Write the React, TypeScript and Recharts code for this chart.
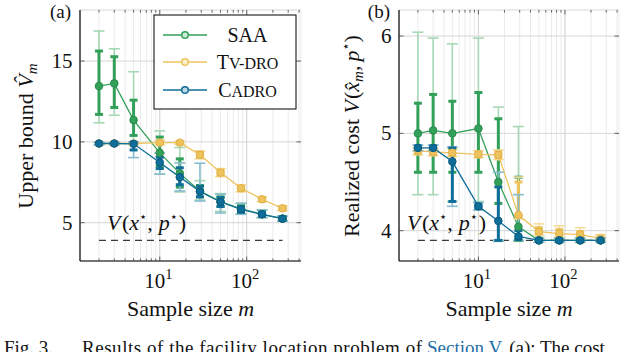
import React from 'react';
import { ComposedChart, Line, XAxis, YAxis, CartesianGrid, ErrorBar, ReferenceLine } from 'recharts';

// ---------- data ----------
const sampleSizes = [2, 3, 5, 10, 17, 29, 50, 86, 150, 258];
const optimalCost = 3.9;
const xGridTicks = [2, 3, 4, 5, 6, 7, 8, 9, 10, 20, 30, 40, 50, 60, 70, 80, 90, 100, 200, 300, 400];
const xMajorTicks = [10, 100];
const yTicksA = [5, 10, 15];
const yTicksB = [4, 5, 6];

// Panel (a): upper bound
const saaA = {
  mean: [13.45, 13.62, 11.35, 9.32, 8.05, 6.95, 6.3, 5.85, 5.52, 5.25],
  innerLo: [11.7, 12.13, 10.4, 8.5, 7.2, 6.6, 6.0, 5.65, 5.4, 5.15],
  innerHi: [15.62, 15.27, 12.58, 10.3, 8.95, 7.3, 6.6, 6.05, 5.7, 5.35],
  outerLo: [11.18, 11.65, 9.9, 8.0, 6.9, 6.4, 5.7, 5.55, 5.3, 5.1],
  outerHi: [16.86, 15.76, 14.34, 10.68, 9.65, 7.6, 6.8, 6.2, 5.8, 5.4],
};
const tvA = {
  mean: [9.9, 9.9, 9.9, 9.96, 9.95, 9.2, 8.1, 7.13, 6.45, 5.89],
  innerLo: [9.85, 9.85, 9.85, 9.9, 9.9, 9.05, 7.95, 7.0, 6.35, 5.8],
  innerHi: [9.95, 9.95, 9.95, 10.02, 10.0, 9.35, 8.25, 7.25, 6.55, 5.98],
  outerLo: [9.8, 9.8, 9.8, 9.8, 9.85, 8.95, 7.85, 6.9, 6.3, 5.75],
  outerHi: [10.0, 10.0, 10.0, 10.1, 10.05, 9.45, 8.35, 7.35, 6.6, 6.05],
};
const cadroA = {
  mean: [9.9, 9.9, 9.88, 8.72, 7.82, 6.93, 6.28, 5.83, 5.52, 5.25],
  innerLo: [9.85, 9.85, 9.5, 8.35, 7.35, 6.6, 6.0, 5.65, 5.4, 5.15],
  innerHi: [9.95, 9.95, 9.97, 9.05, 8.4, 7.25, 6.55, 6.0, 5.65, 5.35],
  outerLo: [9.82, 9.82, 9.03, 8.0, 6.96, 6.34, 5.6, 5.52, 5.32, 5.12],
  outerHi: [9.98, 9.98, 10.0, 9.3, 8.7, 8.68, 6.76, 6.2, 5.78, 5.4],
};

// Panel (b): realized cost
const saaB = {
  mean: [5.0, 5.03, 5.0, 5.05, 4.5, 4.04, 3.9, 3.9, 3.9, 3.9],
  innerLo: [4.6, 4.6, 4.6, 4.6, 4.28, 3.9, 3.89, 3.89, 3.89, 3.89],
  innerHi: [5.31, 5.4, 5.33, 5.42, 5.15, 4.55, 3.92, 3.92, 3.92, 3.92],
  outerLo: [4.37, 4.37, 4.3, 4.3, 3.9, 3.89, 3.88, 3.88, 3.88, 3.88],
  outerHi: [6.04, 5.98, 5.92, 5.98, 5.27, 5.07, 3.93, 3.93, 3.93, 3.93],
};
const tvB = {
  mean: [4.82, 4.81, 4.8, 4.785, 4.78, 4.16, 3.99, 3.97, 3.96, 3.92],
  innerLo: [4.79, 4.78, 4.77, 4.76, 4.75, 4.15, 3.97, 3.95, 3.94, 3.91],
  innerHi: [4.84, 4.83, 4.83, 4.81, 4.81, 4.5, 4.03, 4.01, 3.99, 3.94],
  outerLo: [4.78, 4.77, 4.76, 4.75, 4.73, 4.12, 3.95, 3.93, 3.92, 3.9],
  outerHi: [4.85, 4.84, 4.84, 4.82, 4.83, 4.55, 4.07, 4.05, 4.03, 3.96],
};
const cadroB = {
  mean: [4.85, 4.85, 4.71, 4.25, 4.1, 3.94, 3.9, 3.9, 3.9, 3.9],
  innerLo: [4.83, 4.83, 4.3, 4.23, 3.9, 3.91, 3.89, 3.89, 3.89, 3.89],
  innerHi: [4.87, 4.87, 4.85, 4.27, 4.45, 4.0, 3.91, 3.91, 3.91, 3.91],
  outerLo: [4.82, 4.82, 4.25, 4.21, 3.89, 3.9, 3.88, 3.88, 3.88, 3.88],
  outerHi: [4.88, 4.88, 4.86, 4.29, 4.6, 4.37, 3.92, 3.92, 3.92, 3.92],
};

// ---------- styles ----------
const FONT = '"Liberation Serif", "Times New Roman", Times, serif';
const COLORS = {
  saa: { main: '#33a05a', dark: '#2a8a4c', light: '#a6d8b4', pale: '#cdebd6' },
  tv: { main: '#efc35c', dark: '#e0b04a', light: '#f6dc9c', pale: '#fbeecb' },
  cadro: { main: '#0e6d99', dark: '#0a5a80', light: '#86bccd', pale: '#bcd9e4' },
};

type Band = { mean: number[]; innerLo: number[]; innerHi: number[]; outerLo: number[]; outerHi: number[] };

function fields(key: string, s: Band, i: number) {
  const v = s.mean[i];
  return {
    [key]: v,
    [key + 'Inner']: [v - s.innerLo[i], s.innerHi[i] - v],
    [key + 'Outer']: [v - s.outerLo[i], s.outerHi[i] - v],
  };
}

const rowsA = sampleSizes.map((m, i) => ({
  m,
  vstar: optimalCost,
  ...fields('saa', saaA, i),
  ...fields('tv', tvA, i),
  ...fields('cadro', cadroA, i),
}));
const rowsB = sampleSizes.map((m, i) => ({
  m,
  vstar: optimalCost,
  ...fields('saa', saaB, i),
  ...fields('tv', tvB, i),
  ...fields('cadro', cadroB, i),
}));

// ---------- geometry ----------
const CH_W = 320;
const CH_H = 352;
const PLOT_TOP = 10;
const PLOT_BOTTOM = 261;
const PLOT_H = PLOT_BOTTOM - PLOT_TOP;
const X_DOMAIN: [number, number] = [1.21, 421];

function makeXTick() {
  return (props: any) => {
    const { x, y, payload } = props;
    const v = payload.value;
    const major = v === 10 || v === 100;
    const len = major ? 4.5 : 2.6;
    return (
      <g>
        <line x1={x} x2={x} y1={y} y2={y - len} stroke="#444" strokeWidth={0.8} />
        <line x1={x} x2={x} y1={y - PLOT_H} y2={y - PLOT_H + len} stroke="#444" strokeWidth={0.8} />
        {major && (
          <text x={x - 1.5} y={y + 26.5} textAnchor="middle" fontFamily={FONT} fontSize={21} fill="#111">
            10
            <tspan dy={-8.5} fontSize={14.5}>{v === 10 ? '1' : '2'}</tspan>
          </text>
        )}
      </g>
    );
  };
}

function makeYTick(plotW: number) {
  return (props: any) => {
    const { x, y, payload } = props;
    return (
      <g>
        <line x1={x} x2={x + 4.5} y1={y} y2={y} stroke="#444" strokeWidth={0.8} />
        <line x1={x + plotW - 4.5} x2={x + plotW} y1={y} y2={y} stroke="#444" strokeWidth={0.8} />
        <text x={x - 7.5} y={y + 7} textAnchor="end" fontFamily={FONT} fontSize={21} fill="#111">
          {payload.value}
        </text>
      </g>
    );
  };
}

function series(key: 'saa' | 'tv' | 'cadro') {
  const c = COLORS[key];
  return (
    <Line
      key={key}
      dataKey={key}
      type="linear"
      stroke={c.main}
      strokeWidth={1.3}
      dot={{ r: 3.8, fill: c.main, stroke: c.dark, strokeWidth: 1 }}
      activeDot={false}
      isAnimationActive={false}
    >
      <ErrorBar dataKey={key + 'Outer'} direction="y" width={5.5} stroke={c.light} strokeWidth={1.6} isAnimationActive={false} />
      <ErrorBar dataKey={key + 'Inner'} direction="y" width={4} stroke={c.main} strokeWidth={3} isAnimationActive={false} />
    </Line>
  );
}

function Panel({ rows, yDomain, yTicks, yAxisWidth, marginRight }: any) {
  const plotW = CH_W - yAxisWidth - marginRight;
  return (
    <ComposedChart
      width={CH_W}
      height={CH_H}
      data={rows}
      margin={{ top: PLOT_TOP, right: marginRight, bottom: CH_H - PLOT_BOTTOM - 40, left: 0 }}
    >
      <CartesianGrid horizontal={false} stroke="#ebebeb" strokeWidth={1} />
      <CartesianGrid vertical={false} stroke="#d6d6d6" strokeWidth={1} />
      {xMajorTicks.map((t) => (
        <ReferenceLine key={t} x={t} stroke="#d6d6d6" strokeWidth={1} />
      ))}
      <XAxis
        dataKey="m"
        type="number"
        scale="log"
        domain={X_DOMAIN}
        allowDataOverflow
        ticks={xGridTicks}
        interval={0}
        tickSize={0}
        tickMargin={0}
        height={40}
        axisLine={{ stroke: '#000', strokeWidth: 1.2 }}
        tickLine={false}
        tick={makeXTick()}
      />
      <XAxis
        xAxisId="top"
        dataKey="m"
        type="number"
        scale="log"
        domain={X_DOMAIN}
        allowDataOverflow
        orientation="top"
        height={0}
        tick={false}
        tickLine={false}
        axisLine={{ stroke: '#000', strokeWidth: 1.2 }}
      />
      <YAxis
        type="number"
        domain={yDomain}
        allowDataOverflow
        ticks={yTicks}
        interval={0}
        width={yAxisWidth}
        tickSize={0}
        tickMargin={0}
        axisLine={{ stroke: '#000', strokeWidth: 1.2 }}
        tickLine={false}
        tick={makeYTick(plotW)}
      />
      <YAxis
        yAxisId="right"
        orientation="right"
        type="number"
        domain={yDomain}
        allowDataOverflow
        width={0}
        tick={false}
        tickLine={false}
        axisLine={{ stroke: '#000', strokeWidth: 1.2 }}
      />
      <Line
        dataKey="vstar"
        stroke="#3a3a3a"
        strokeWidth={1.3}
        strokeDasharray="7 5"
        dot={false}
        activeDot={false}
        isAnimationActive={false}
      />
      {series('saa')}
      {series('tv')}
      {series('cadro')}
    </ComposedChart>
  );
}

const textStyle = { fontFamily: FONT, fill: '#111' } as const;

function StarText({ x, y }: { x: number; y: number }) {
  return (
    <text x={x} y={y} fontSize={22} {...textStyle}>
      <tspan fontStyle="italic">V</tspan>
      <tspan dx={1.5}>(</tspan>
      <tspan fontStyle="italic">x</tspan>
      <tspan dy={-9} fontSize={13} fontFamily="DejaVu Sans">⋆</tspan>
      <tspan dy={9}>,</tspan>
      <tspan dx={6} fontStyle="italic">p</tspan>
      <tspan dy={-9} fontSize={13} fontFamily="DejaVu Sans">⋆</tspan>
      <tspan dy={9} dx={1}>)</tspan>
    </text>
  );
}

function LegendBox() {
  const entries = [
    { key: 'saa', y: 35 },
    { key: 'tv', y: 62 },
    { key: 'cadro', y: 90 },
  ] as const;
  return (
    <g>
      <rect x={154} y={15} width={142} height={94} fill="#fff" stroke="#000" strokeWidth={1} />
      {entries.map((e) => {
        const c = COLORS[e.key];
        return (
          <g key={e.key}>
            <line x1={163} x2={207} y1={e.y} y2={e.y} stroke={c.main} strokeWidth={1.3} />
            <circle cx={185} cy={e.y} r={3.3} fill={c.pale} stroke={c.main} strokeWidth={1.5} />
          </g>
        );
      })}
      <text x={247.5} y={42} textAnchor="middle" fontSize={20} {...textStyle}>SAA</text>
      <text x={247.5} y={69} textAnchor="middle" fontSize={20} {...textStyle}>
        T<tspan fontSize={16}>V-DRO</tspan>
      </text>
      <text x={247.5} y={97} textAnchor="middle" fontSize={20} {...textStyle}>
        C<tspan fontSize={16}>ADRO</tspan>
      </text>
    </g>
  );
}

export default function App() {
  return (
    <div style={{ position: 'absolute', left: 0, top: 0, width: 640, height: 352, background: '#fff', overflow: 'hidden' }}>
      <div style={{ position: 'absolute', left: 0, top: 0 }}>
        <Panel rows={rowsA} yDomain={[2.63, 18.16]} yTicks={yTicksA} yAxisWidth={80} marginRight={19} />
      </div>
      <div style={{ position: 'absolute', left: 320, top: 0 }}>
        <Panel rows={rowsB} yDomain={[3.688, 6.268]} yTicks={yTicksB} yAxisWidth={79} marginRight={21} />
      </div>
      <svg width={640} height={352} style={{ position: 'absolute', left: 0, top: 0, pointerEvents: 'none' }}>
        <LegendBox />
        <StarText x={107} y={230} />
        <StarText x={407} y={230} />
        <text x={71} y={18} textAnchor="end" fontSize={19} {...textStyle}>(a)</text>
        <text x={390} y={18} textAnchor="end" fontSize={19} {...textStyle}>(b)</text>
        <text x={190.5} y={316} textAnchor="middle" fontSize={22} {...textStyle}>
          Sample size <tspan fontStyle="italic">m</tspan>
        </text>
        <text x={509} y={316} textAnchor="middle" fontSize={22} {...textStyle}>
          Sample size <tspan fontStyle="italic">m</tspan>
        </text>
        <text transform="translate(33,136) rotate(-90)" textAnchor="middle" fontSize={22} {...textStyle}>
          Upper bound <tspan fontStyle="italic">{'V\u0302'}</tspan>
          <tspan fontStyle="italic" fontSize={15} dy={4}>m</tspan>
        </text>
        <text transform="translate(359,136) rotate(-90)" textAnchor="middle" fontSize={22} {...textStyle}>
          Realized cost <tspan fontStyle="italic">V</tspan>
          <tspan dx={1}>(</tspan>
          <tspan fontStyle="italic">{'x\u0302'}</tspan>
          <tspan fontStyle="italic" fontSize={15} dy={4}>m</tspan>
          <tspan dy={-4}>,</tspan>
          <tspan dx={4} fontStyle="italic">p</tspan>
          <tspan dy={-9} fontSize={13} fontFamily="DejaVu Sans">⋆</tspan>
          <tspan dy={9}>)</tspan>
        </text>
        <text x={4} y={354} fontSize={19} {...textStyle}>Fig. 3.</text>
        <text x={82} y={354} fontSize={19} textLength={340} lengthAdjust="spacing" {...textStyle}>
          Results of the facility location problem of
        </text>
        <text x={427} y={354} fontSize={19} {...textStyle}>
          <tspan fill="#1f6ea8">Section V.</tspan> (a): The cost
        </text>
      </svg>
    </div>
  );
}
